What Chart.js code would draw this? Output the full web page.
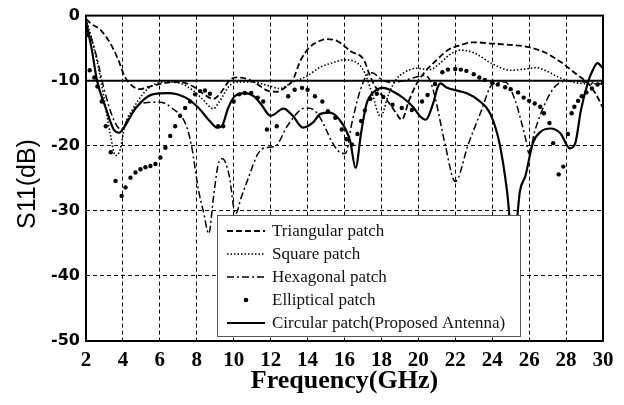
<!DOCTYPE html>
<html>
<head>
<meta charset="utf-8">
<script src="https://cdn.jsdelivr.net/npm/chart.js@4.4.1/dist/chart.umd.min.js"></script>
<style>
  html, body { margin: 0; padding: 0; background: #fff; }
</style>
</head>
<body>
<canvas id="s11" width="624" height="405"></canvas>
<script>
// ---- data (GHz, dB) ----
const freqTri = [2, 2.3, 2.75, 3.3, 3.75, 4.1, 4.55, 4.9, 5.45, 6.2, 7.1, 7.8, 8.35, 8.9, 9.2, 9.8, 10.15, 10.7, 11.2, 11.8, 12.3, 12.85, 13.2, 13.6, 14.1, 14.65, 15, 15.6, 16.35, 17.05, 17.4, 17.8, 18.3, 18.8, 19.1, 19.5, 19.9, 20.4, 21, 21.6, 22.2, 23, 24, 25, 26, 26.8, 27.7, 28.6, 29.2, 29.6, 30];
const s11Tri = [-0.5, -1.3, -2.1, -4.2, -6.8, -9.4, -10.9, -11.3, -10.9, -10.4, -10.2, -10.9, -12, -12.8, -12.2, -9.9, -9.5, -9.7, -10.4, -11.5, -11.7, -10.9, -9.9, -7, -4.9, -3.9, -3.6, -3.9, -5.5, -6.8, -9.4, -11.5, -13, -15, -16, -13, -10.5, -8.5, -6.8, -5.3, -4.6, -4.1, -4.3, -4.5, -4.85, -5.6, -7.1, -9.1, -10.4, -12, -14.2];

const freqSq = [2, 2.3, 2.6, 2.95, 3.3, 3.6, 3.85, 4.1, 4.55, 5.1, 5.6, 6.35, 7.1, 7.8, 8.3, 8.9, 9.2, 9.8, 10.3, 11, 11.8, 12.5, 13.2, 13.9, 14.7, 15.3, 16, 16.7, 17.1, 17.5, 17.95, 18.4, 18.8, 19.2, 19.9, 20.6, 21.1, 21.7, 22.3, 23, 24, 25, 25.8, 26.4, 27, 27.7, 28.5, 29.3, 30];
const s11Sq = [-0.5, -3.5, -7, -12.2, -18, -21.5, -20.6, -16.9, -14.3, -12, -10.7, -10.2, -10.4, -11.5, -12.8, -14.3, -13.3, -10.7, -10.2, -10.2, -10.7, -11.2, -10.2, -9.4, -7.9, -7.3, -6.8, -7.3, -8.8, -12, -15.5, -12, -9.8, -8.8, -8.1, -8.3, -7.5, -6, -5.3, -5.7, -7.4, -8.4, -8.2, -8, -8.6, -9.6, -10.3, -10.5, -10.4];

const freqHex = [2, 2.5, 3, 3.5, 3.9, 4.3, 4.8, 5.2, 6, 6.65, 7.4, 7.7, 8.1, 8.35, 8.65, 8.9, 9.15, 9.4, 9.75, 10.1, 10.4, 10.8, 11.3, 11.7, 12.24, 12.94, 13.86, 14.3, 14.8, 15.3, 15.8, 16.05, 16.4, 16.85, 17.2, 17.5, 18, 18.6, 19.2, 19.8, 20.3, 20.6, 20.9, 21.45, 22, 22.7, 23.4, 24, 24.7, 25.2, 25.8, 26, 26.3, 27, 27.6, 28.3, 29, 30];
const s11Hex = [-1, -5.5, -11.5, -16, -17.5, -15.8, -13.8, -13.4, -13.3, -14.2, -16.7, -19.8, -26.9, -30, -33.5, -28, -23, -22, -24.5, -30.5, -28, -24.9, -21.3, -20.3, -20.1, -16.8, -14.2, -14.4, -16.3, -19.3, -21.1, -21.2, -16.5, -11.5, -9.2, -8.8, -9.8, -10.3, -10, -9.5, -9.2, -9.8, -12.5, -19.8, -25.5, -19.8, -14.7, -10.6, -10.2, -12.7, -18.8, -21.2, -17.8, -12.7, -10.4, -10, -10.2, -10.5];

const freqEll = [2.05, 2.2, 2.45, 2.62, 2.85, 3.07, 3.34, 3.6, 3.93, 4.14, 4.41, 4.68, 4.95, 5.22, 5.49, 5.76, 6.03, 6.3, 6.56, 6.83, 7.1, 7.37, 7.64, 7.91, 8.18, 8.44, 8.71, 9.16, 9.43, 10.0, 10.3, 10.6, 10.95, 11.3, 11.6, 11.8, 12.33, 12.95, 13.3, 13.7, 14.0, 14.4, 14.8, 15.1, 15.5, 15.85, 16.1, 16.4, 16.7, 16.9, 17.1, 17.4, 17.75, 18.1, 18.6, 19.1, 19.65, 20.2, 20.5, 20.9, 21.3, 21.6, 22.0, 22.3, 22.6, 23.0, 23.3, 23.6, 24.0, 24.3, 24.7, 25.0, 25.4, 25.7, 26.0, 26.3, 26.6, 26.8, 27.1, 27.3, 27.6, 27.85, 28.1, 28.3, 28.45, 28.65, 28.85, 29.1, 29.4, 29.7, 30];
const s11Ell = [-3, -8.4, -9.5, -10.9, -13.2, -17, -21, -25.4, -27.7, -26.4, -24.9, -24.1, -23.6, -23.3, -23.1, -22.8, -21.8, -20.3, -18.5, -17, -15.4, -14.2, -13.2, -12.1, -11.6, -11.5, -12, -17, -17, -13.2, -12.1, -11.9, -11.9, -12.6, -13.2, -17.5, -17, -12.4, -11.4, -11.1, -11.4, -12.4, -13.2, -14.7, -15.7, -17.5, -19, -19.8, -18.2, -16.2, -14.6, -12.8, -12, -12.5, -13.7, -14.2, -14.5, -13.2, -12.2, -10.5, -8.7, -8.3, -8.2, -8.3, -8.5, -9, -9.5, -9.9, -10.3, -10.6, -11, -11.3, -11.8, -12.6, -13.1, -13.5, -14, -15, -16.5, -19.6, -24.4, -23.2, -18.2, -15, -14, -13.1, -12.4, -11.8, -11.2, -10.6, -10.4];

const freqCirc = [2, 2.3, 2.6, 3.07, 3.5, 3.8, 4.05, 4.7, 5.6, 6.45, 7.4, 8.1, 8.7, 9.1, 9.35, 9.7, 10.05, 10.6, 11.1, 11.5, 12, 12.7, 13.2, 13.75, 14.3, 14.7, 15.2, 15.7, 16.3, 16.6, 16.9, 17.2, 17.6, 18.1, 18.65, 19.2, 19.7, 20.1, 20.4, 20.8, 21.05, 21.2, 21.5, 22.2, 22.6, 23.3, 23.9, 24.4, 24.8, 25.15, 25.5, 25.8, 26.2, 26.6, 27.15, 27.7, 28.2, 28.5, 28.8, 29.2, 29.45, 29.7, 30];
const s11Circ = [-1, -5, -10, -14.2, -17.5, -18, -17.2, -14.2, -12.1, -11.9, -12.6, -14.2, -16.2, -17.2, -17, -14.2, -12.4, -11.9, -12.4, -13.7, -15.4, -14.3, -15.4, -17.2, -16.4, -15.1, -14.9, -15.9, -19.2, -23.4, -18, -13.5, -11.7, -11.1, -11.7, -12.7, -14, -15.5, -16, -13.5, -11, -10.4, -11, -11.6, -11.9, -13.1, -15.1, -19.7, -26.9, -36, -27, -24.6, -19.6, -17.9, -17.35, -18.1, -20.4, -19.6, -14.6, -10.1, -8.35, -7.3, -8.1];

const seriesNames = ["Triangular patch", "Square patch", "Hexagonal patch", "Elliptical patch", "Circular patch(Proposed Antenna)"];
const xTicks = [2, 4, 6, 8, 10, 12, 14, 16, 18, 20, 22, 24, 26, 28, 30];
const yTicks = [0, -10, -20, -30, -40, -50];
const threshold = -10;

function pts(fs, vs) {
  return fs.map((f, i) => ({ x: f, y: vs[i] }));
}

// line styles (also used by the legend)
const styles = [
  { dash: [6, 3], width: 1.8 },
  { dash: [1.5, 2], width: 1.6 },
  { dash: [7, 3, 2, 3], width: 1.5 },
  { dot: true },
  { dash: [], width: 2.2 },
];

const frameLegend = {
  id: "frameLegend",
  afterDatasetsDraw(chart) {
    const { ctx, chartArea: a } = chart;
    ctx.save();
    // plot frame
    ctx.strokeStyle = "#000";
    ctx.lineWidth = 2;
    ctx.setLineDash([]);
    ctx.strokeRect(a.left, a.top, a.right - a.left, a.bottom - a.top);

    // legend box inside the plot
    const bx = 217, by = 215, bw = 303, bh = 121;
    ctx.fillStyle = "#fff";
    ctx.fillRect(bx, by, bw, bh);
    ctx.strokeStyle = "#555";
    ctx.lineWidth = 1;
    ctx.strokeRect(bx + 0.5, by + 0.5, bw, bh);

    ctx.font = "17px 'Liberation Serif', serif";
    ctx.textBaseline = "middle";
    ctx.textAlign = "left";
    seriesNames.forEach((name, i) => {
      const y = 231 + i * 23;
      const st = styles[i];
      ctx.strokeStyle = "#000";
      ctx.fillStyle = "#000";
      if (st.dot) {
        ctx.beginPath();
        ctx.arc(246, y, 2.3, 0, Math.PI * 2);
        ctx.fill();
      } else {
        ctx.lineWidth = st.width;
        ctx.setLineDash(st.dash);
        ctx.beginPath();
        ctx.moveTo(227, y);
        ctx.lineTo(265, y);
        ctx.stroke();
      }
      ctx.setLineDash([]);
      ctx.fillStyle = "#111";
      ctx.fillText(name, 272, y + 1);
    });
    ctx.restore();
  },
  afterDraw(chart) {
    const { ctx, chartArea: a } = chart;
    ctx.save();
    ctx.fillStyle = "#000";
    ctx.textAlign = "center";
    ctx.textBaseline = "middle";
    ctx.font = "bold 26px 'Liberation Serif', serif";
    ctx.fillText("Frequency(GHz)", (a.left + a.right) / 2, 381);
    ctx.translate(28, 184);
    ctx.rotate(-Math.PI / 2);
    ctx.font = "25px 'Liberation Sans', sans-serif";
    ctx.fillText("S11(dB)", 0, 0);
    ctx.restore();
  },
};

const lineDs = (i, fs, vs) => ({
  label: seriesNames[i],
  data: pts(fs, vs),
  borderColor: "#000",
  borderWidth: styles[i].width,
  borderDash: styles[i].dash,
  pointRadius: 0,
  cubicInterpolationMode: "monotone",
  fill: false,
});

new Chart(document.getElementById("s11"), {
  type: "line",
  data: {
    datasets: [
      {
        label: "-10 dB",
        data: [{ x: 2, y: threshold }, { x: 30, y: threshold }],
        borderColor: "#000",
        borderWidth: 2,
        pointRadius: 0,
      },
      lineDs(0, freqTri, s11Tri),
      lineDs(1, freqSq, s11Sq),
      lineDs(2, freqHex, s11Hex),
      {
        label: seriesNames[3],
        data: pts(freqEll, s11Ell),
        showLine: false,
        pointRadius: 2.2,
        pointBorderWidth: 0,
        pointBackgroundColor: "#000",
        borderColor: "#000",
      },
      lineDs(4, freqCirc, s11Circ),
    ],
  },
  options: {
    responsive: false,
    animation: false,
    devicePixelRatio: 1,
    layout: { padding: { top: 14, right: 21, left: 0, bottom: 0 } },
    plugins: {
      legend: { display: false },
      tooltip: { enabled: false },
    },
    scales: {
      x: {
        type: "linear",
        min: 2,
        max: 30,
        afterBuildTicks: (s) => { s.ticks = xTicks.map((v) => ({ value: v })); },
        afterFit: (s) => { s.height = 64; },
        ticks: {
          color: "#000",
          padding: 7,
          maxRotation: 0,
          autoSkip: false,
          font: { family: "'Liberation Serif', serif", weight: "bold", size: 21 },
        },
        grid: {
          drawTicks: false,
          lineWidth: 1,
          color: (c) => (c.tick && (c.tick.value === 2 || c.tick.value === 30) ? "rgba(0,0,0,0)" : "#000"),
        },
        border: { display: false, dash: [4, 3] },
      },
      y: {
        min: -50,
        max: 0,
        afterBuildTicks: (s) => { s.ticks = yTicks.map((v) => ({ value: v })); },
        afterFit: (s) => { s.width = 86; },
        ticks: {
          color: "#000",
          padding: 6,
          font: { family: "'DejaVu Sans', sans-serif", weight: "bold", size: 16 },
        },
        grid: {
          drawTicks: false,
          lineWidth: 1,
          color: (c) => (c.tick && [-20, -30, -40].includes(c.tick.value) ? "#000" : "rgba(0,0,0,0)"),
        },
        border: { display: false, dash: [4, 3] },
      },
    },
  },
  plugins: [frameLegend],
});
</script>
</body>
</html>
